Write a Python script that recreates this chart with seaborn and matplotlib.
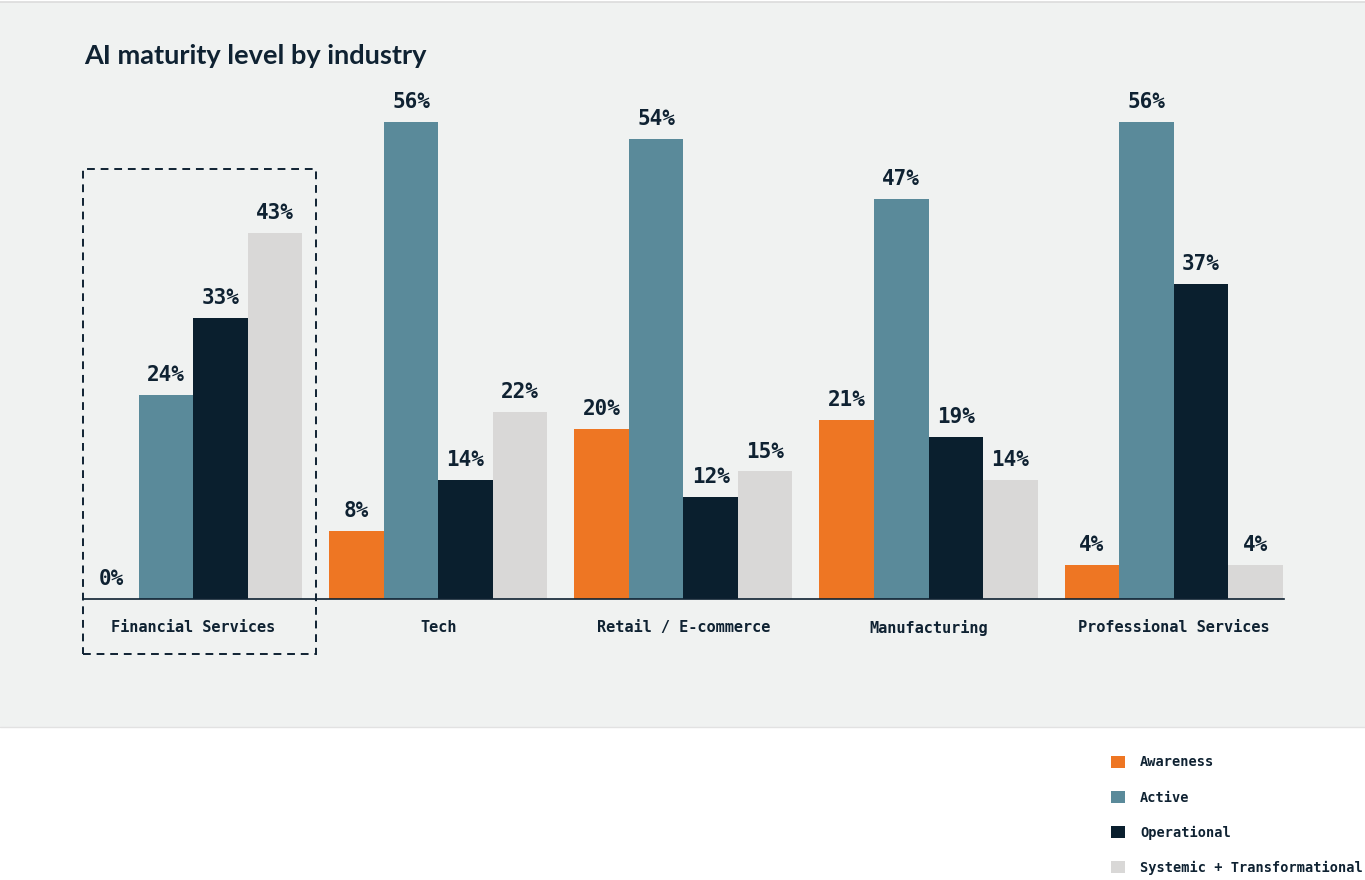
import pandas as pd
import matplotlib.pyplot as plt
import seaborn as sns
from matplotlib.patches import Rectangle

# Chart data
industries = ['Financial Services', 'Tech', 'Retail / E-commerce', 'Manufacturing', 'Professional Services']
levels = ['Awareness', 'Active', 'Operational', 'Systemic + Transformational']
awareness = [0, 8, 20, 21, 4]
active = [24, 56, 54, 47, 56]
operational = [33, 14, 12, 19, 37]
systemic = [43, 22, 15, 14, 4]

colors = ['#ee7623', '#5a8a9a', '#0a1f2e', '#d9d8d7']
text_dark = '#0f2232'
mono = 'DejaVu Sans Mono'

rows = []
for lvl, vals in zip(levels, [awareness, active, operational, systemic]):
    for ind, v in zip(industries, vals):
        rows.append({'industry': ind, 'level': lvl, 'value': v})
df = pd.DataFrame(rows)

sns.set_theme(style='white')
fig = plt.figure(figsize=(13.65, 8.80), dpi=100, facecolor='white')

# grey panel behind the chart
fig.patches.append(Rectangle((0, 153 / 880), 1, 725 / 880, transform=fig.transFigure,
                             facecolor='#f0f2f1', edgecolor='none', zorder=-5))
fig.lines.append(plt.Line2D([0, 1], [878 / 880, 878 / 880], transform=fig.transFigure,
                            color='#dcdcdc', lw=1.2, zorder=-4))
fig.lines.append(plt.Line2D([0, 1], [153 / 880, 153 / 880], transform=fig.transFigure,
                            color='#e2e2e2', lw=1.0, zorder=-4))

ax = fig.add_axes([84 / 1365, 281 / 880, 1200 / 1365, 511 / 880])
ax.set_facecolor('none')

sns.barplot(data=df, x='industry', y='value', hue='level', hue_order=levels,
            order=industries, palette=colors, saturation=1, width=0.89, linewidth=0, ax=ax)

for cont in ax.containers:
    ax.bar_label(cont, labels=[f'{int(v)}%' for v in cont.datavalues], padding=7,
                 fontsize=15, fontweight='bold', family=mono, color=text_dark)

ax.set_xlim(-0.445, 4.45)
ax.set_ylim(0, 60)
ax.set_xlabel('')
ax.set_ylabel('')
ax.set_yticks([])
ax.tick_params(axis='x', length=0, pad=15)
for lab in ax.get_xticklabels():
    lab.set_fontfamily(mono)
    lab.set_fontweight('bold')
    lab.set_fontsize(11)
    lab.set_color(text_dark)
sns.despine(ax=ax, left=True, top=True, right=True)
ax.spines['bottom'].set_color(text_dark)
ax.spines['bottom'].set_linewidth(1.2)

# dashed highlight box around Financial Services
ax.add_patch(Rectangle((-0.449, -6.45), 0.951, 56.9, transform=ax.transData, fill=False,
                       edgecolor=text_dark, linestyle=(0, (4, 3)), linewidth=1.4, clip_on=False))

fig.text(84 / 1365, 1 - 56 / 880, 'AI maturity level by industry', fontsize=19.5,
         fontweight='bold', family='Lato', color=text_dark, va='center', ha='left')

handles, labels = ax.get_legend_handles_labels()
ax.get_legend().remove()
fig.legend(handles, labels, loc='upper left', bbox_to_anchor=(1106 / 1365, 1 - 750 / 880),
           frameon=False, prop={'family': mono, 'weight': 'bold', 'size': 9.8},
           labelcolor=text_dark, handlelength=1.0, handleheight=1.0,
           handletextpad=1.1, labelspacing=1.55, borderaxespad=0)

fig.savefig('out.png', dpi=100, facecolor=fig.get_facecolor())
